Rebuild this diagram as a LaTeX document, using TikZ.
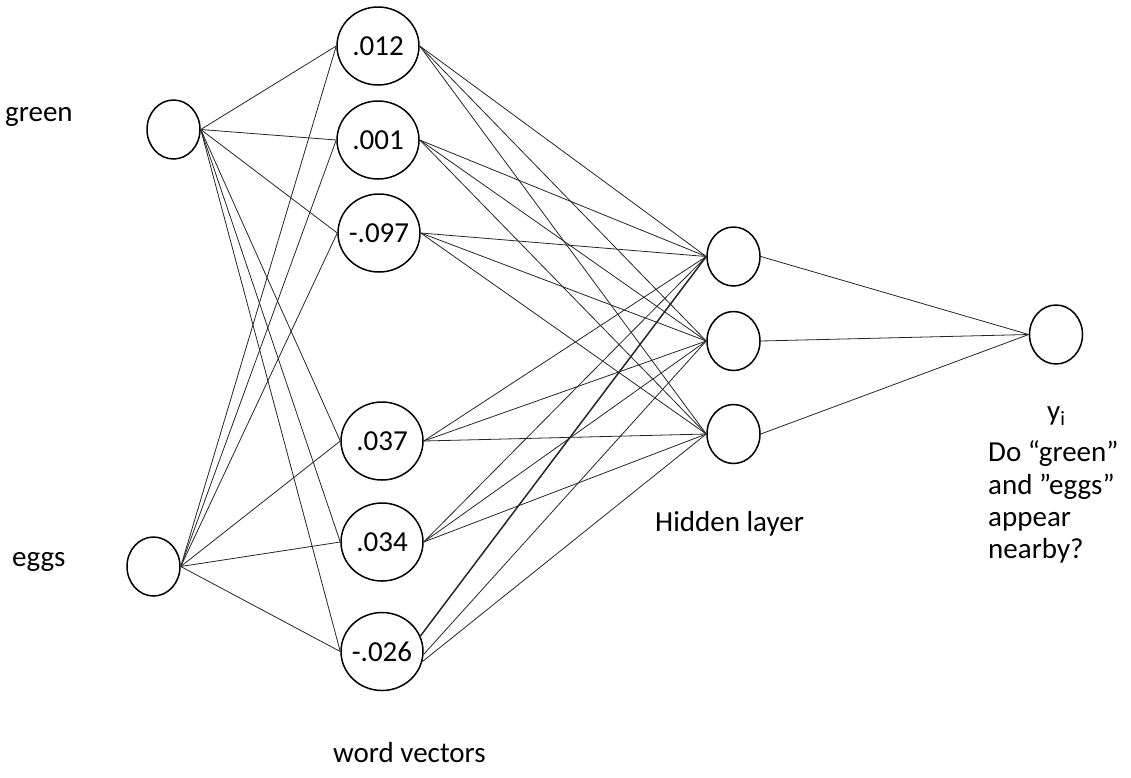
\documentclass[tikz,border=0pt]{standalone}
\usepackage{fontspec}
\setmainfont{Carlito}
\usetikzlibrary{shapes.geometric}
\begin{document}
\begin{tikzpicture}[x=1pt,y=-1pt,
  every node/.style={font=\fontsize{29}{33}\selectfont},
  unit/.style={draw=black, line width=1.5pt, ellipse, inner sep=0pt},
  wordunit/.style={unit, minimum width=82pt, minimum height=78pt},
  smallunit/.style={unit, minimum width=53pt, minimum height=59pt},
  caption/.style={anchor=base west, inner sep=0pt},
  link/.style={draw=black!85, line width=0.8pt},
  boldlink/.style={draw=black!85, line width=1.5pt}]
\useasboundingbox (0,0) rectangle (1131,777);

% input words
\node[smallunit] (green) at (173.5,129.5) {};
\node[smallunit] (eggs)  at (153.5,566.5) {};

% word vector units
\node[wordunit] (w1) at (378,46)    {\makebox[0pt]{.012}};
\node[wordunit] (w2) at (378,140)   {\makebox[0pt]{.001}};
\node[wordunit] (w3) at (379,233)   {\makebox[0pt]{-.097}};
\node[wordunit] (w4) at (382,441)   {\makebox[0pt]{.037}};
\node[wordunit] (w5) at (382,542)   {\makebox[0pt]{.034}};
\node[wordunit] (w6) at (382,651.5) {\makebox[0pt]{-.026}};

% hidden layer and output
\node[smallunit] (h1) at (733.5,256.5) {};
\node[smallunit] (h2) at (733.5,341)   {};
\node[smallunit] (h3) at (733.5,434)   {};
\node[smallunit] (out) at (1056,334.5) {};

% inputs to word vectors
\foreach \w in {w1,w2,w3,w4,w5,w6}{
  \draw[link] (green.east) -- (\w.west);
  \draw[link] (eggs.east) -- (\w.west);
}

% word vectors to hidden layer
\foreach \w in {w1,w2,w3,w4,w5}{
  \foreach \h in {h1,h2,h3}{
    \draw[link] (\w.east) -- (\h.west);
  }
}
\draw[boldlink] (w6.22) -- (h1.west);
\draw[link] (w6.-4) -- (h2.west);
\draw[link] (w6.-14) -- (h3.west);

% hidden layer to output
\foreach \h in {h1,h2,h3}{
  \draw[link] (\h.east) -- (out.west);
}

% labels
\node[caption] (tgreen) at (5,121) {green};
\node[caption] (teggs)  at (12,566) {eggs};
\node[caption] (tword)  at (333,762) {word vectors};
\node[caption] (thid)   at (655,531) {Hidden layer};
\node[caption] (tyi)    at (1047,420) {y\textsubscript{i}};
\node[caption] (q1) at (988,461) {Do “green”};
\node[caption] (q2) at (988,494) {and ”eggs”};
\node[caption] (q3) at (988,526) {appear};
\node[caption] (q4) at (988,558) {nearby?};
\end{tikzpicture}
\end{document}
